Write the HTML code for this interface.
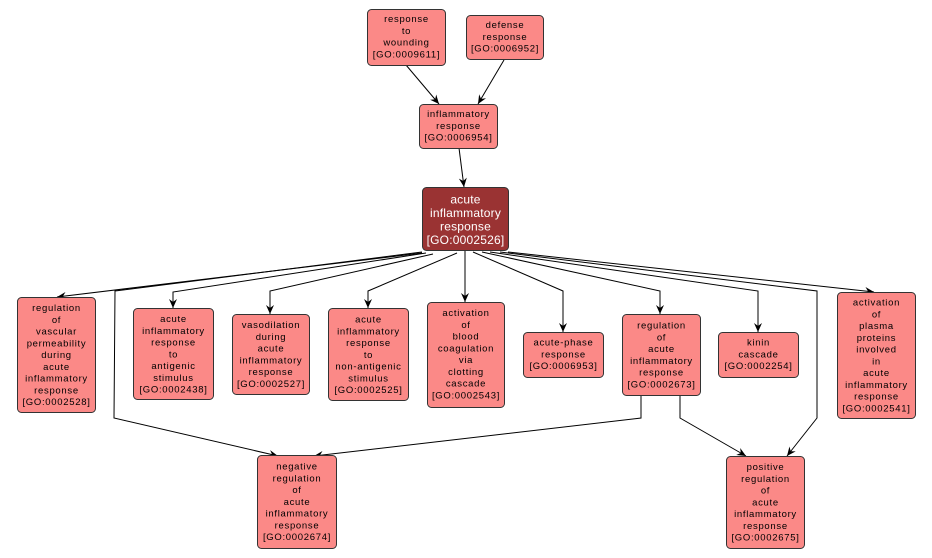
<!DOCTYPE html>
<html>
<head>
<meta charset="utf-8">
<style>
html,body{margin:0;padding:0;background:#fff;}
svg{display:block;}
text{font-family:"Liberation Sans",Arial,sans-serif;font-size:9.5px;letter-spacing:0.7px;text-anchor:middle;fill:#000;}
.big{font-size:12px;letter-spacing:0.2px;fill:#fff;}
.n{fill:#fb8987;stroke:#333;stroke-width:1;}
.d{fill:#9a3333;stroke:#333;stroke-width:1;}
.e{fill:none;stroke:#000;stroke-width:1;}
</style>
</head>
<body>
<svg width="932" height="558" viewBox="0 0 932 558" xmlns="http://www.w3.org/2000/svg">
<defs>
<marker id="a" markerWidth="12" markerHeight="10" refX="10" refY="5" orient="auto" markerUnits="userSpaceOnUse">
<path d="M10,5 L1,1 L4,5 L1,9 Z" fill="#000"/>
</marker>
</defs>

<!-- edges -->
<path class="e" marker-end="url(#a)" d="M406,65 L439,104"/>
<path class="e" marker-end="url(#a)" d="M504,60 L478,104"/>
<path class="e" marker-end="url(#a)" d="M459,148 L464,187"/>
<path class="e" marker-end="url(#a)" d="M422,253 L57,297"/>
<path class="e" marker-end="url(#a)" d="M422,252 L115,291 L114,418 L278,456"/>
<path class="e" marker-end="url(#a)" d="M426,253 L173,292 L173,308"/>
<path class="e" marker-end="url(#a)" d="M433,254 L270,291 L270,314"/>
<path class="e" marker-end="url(#a)" d="M457,253 L368,291 L368,308"/>
<path class="e" marker-end="url(#a)" d="M465,250 L465,302"/>
<path class="e" marker-end="url(#a)" d="M473,252 L563,291 L563,332"/>
<path class="e" marker-end="url(#a)" d="M482,252 L660,291 L660,314"/>
<path class="e" marker-end="url(#a)" d="M490,252 L758,291 L758,332"/>
<path class="e" marker-end="url(#a)" d="M500,252 L817,291 L817,418 L787,456"/>
<path class="e" marker-end="url(#a)" d="M508,252 L874,292"/>
<path class="e" marker-end="url(#a)" d="M641,395 L641,418 L314,456"/>
<path class="e" marker-end="url(#a)" d="M680,395 L680,418 L746,456"/>

<!-- nodes -->
<rect class="n" x="367.5" y="9.5" width="78" height="56" rx="4"/>
<text x="406.5" y="22">response</text>
<text x="406.5" y="33.8">to</text>
<text x="406.5" y="45.5">wounding</text>
<text x="406.5" y="57.3">[GO:0009611]</text>

<rect class="n" x="466.5" y="15.5" width="77" height="44" rx="4"/>
<text x="505" y="28">defense</text>
<text x="505" y="39.8">response</text>
<text x="505" y="51.5">[GO:0006952]</text>

<rect class="n" x="419.5" y="104.5" width="78" height="44" rx="4"/>
<text x="458.5" y="117">inflammatory</text>
<text x="458.5" y="128.8">response</text>
<text x="458.5" y="140.5">[GO:0006954]</text>

<rect class="d" x="422.5" y="187.5" width="86" height="63" rx="4"/>
<text class="big" x="465.5" y="203.5">acute</text>
<text class="big" x="465.5" y="217">inflammatory</text>
<text class="big" x="465.5" y="230.5">response</text>
<text class="big" x="465.5" y="244">[GO:0002526]</text>

<rect class="n" x="17.5" y="297.5" width="78" height="115" rx="4"/>
<text x="56.5" y="311">regulation</text>
<text x="56.5" y="322.8">of</text>
<text x="56.5" y="334.5">vascular</text>
<text x="56.5" y="346.3">permeability</text>
<text x="56.5" y="358">during</text>
<text x="56.5" y="369.8">acute</text>
<text x="56.5" y="381.5">inflammatory</text>
<text x="56.5" y="393.3">response</text>
<text x="56.5" y="405">[GO:0002528]</text>

<rect class="n" x="133.5" y="308.5" width="80" height="91" rx="4"/>
<text x="173.5" y="322">acute</text>
<text x="173.5" y="333.8">inflammatory</text>
<text x="173.5" y="345.5">response</text>
<text x="173.5" y="357.3">to</text>
<text x="173.5" y="369">antigenic</text>
<text x="173.5" y="380.8">stimulus</text>
<text x="173.5" y="392.5">[GO:0002438]</text>

<rect class="n" x="232.5" y="314.5" width="77" height="80" rx="4"/>
<text x="271" y="328">vasodilation</text>
<text x="271" y="339.8">during</text>
<text x="271" y="351.5">acute</text>
<text x="271" y="363.3">inflammatory</text>
<text x="271" y="375">response</text>
<text x="271" y="386.8">[GO:0002527]</text>

<rect class="n" x="328.5" y="308.5" width="80" height="92" rx="4"/>
<text x="368.5" y="322.5">acute</text>
<text x="368.5" y="334.3">inflammatory</text>
<text x="368.5" y="346">response</text>
<text x="368.5" y="357.8">to</text>
<text x="368.5" y="369.5">non-antigenic</text>
<text x="368.5" y="381.3">stimulus</text>
<text x="368.5" y="393">[GO:0002525]</text>

<rect class="n" x="427.5" y="302.5" width="77" height="105" rx="4"/>
<text x="466" y="316">activation</text>
<text x="466" y="327.8">of</text>
<text x="466" y="339.5">blood</text>
<text x="466" y="351.3">coagulation</text>
<text x="466" y="363">via</text>
<text x="466" y="374.8">clotting</text>
<text x="466" y="386.5">cascade</text>
<text x="466" y="398.3">[GO:0002543]</text>

<rect class="n" x="523.5" y="332.5" width="80" height="45" rx="4"/>
<text x="563.5" y="345.5">acute-phase</text>
<text x="563.5" y="357.3">response</text>
<text x="563.5" y="369">[GO:0006953]</text>

<rect class="n" x="622.5" y="314.5" width="78" height="81" rx="4"/>
<text x="661.5" y="328.5">regulation</text>
<text x="661.5" y="340.3">of</text>
<text x="661.5" y="352">acute</text>
<text x="661.5" y="363.8">inflammatory</text>
<text x="661.5" y="375.5">response</text>
<text x="661.5" y="387.3">[GO:0002673]</text>

<rect class="n" x="718.5" y="332.5" width="80" height="45" rx="4"/>
<text x="758.5" y="345.5">kinin</text>
<text x="758.5" y="357.3">cascade</text>
<text x="758.5" y="369">[GO:0002254]</text>

<rect class="n" x="837.5" y="292.5" width="78" height="126" rx="4"/>
<text x="876.5" y="305.5">activation</text>
<text x="876.5" y="317.3">of</text>
<text x="876.5" y="329">plasma</text>
<text x="876.5" y="340.8">proteins</text>
<text x="876.5" y="352.5">involved</text>
<text x="876.5" y="364.3">in</text>
<text x="876.5" y="376">acute</text>
<text x="876.5" y="387.8">inflammatory</text>
<text x="876.5" y="399.5">response</text>
<text x="876.5" y="411.3">[GO:0002541]</text>

<rect class="n" x="257.5" y="455.5" width="79" height="93" rx="4"/>
<text x="297" y="469.5">negative</text>
<text x="297" y="481.3">regulation</text>
<text x="297" y="493">of</text>
<text x="297" y="504.8">acute</text>
<text x="297" y="516.5">inflammatory</text>
<text x="297" y="528.3">response</text>
<text x="297" y="540">[GO:0002674]</text>

<rect class="n" x="726.5" y="456.5" width="78" height="92" rx="4"/>
<text x="765.5" y="470">positive</text>
<text x="765.5" y="481.8">regulation</text>
<text x="765.5" y="493.5">of</text>
<text x="765.5" y="505.3">acute</text>
<text x="765.5" y="517">inflammatory</text>
<text x="765.5" y="528.8">response</text>
<text x="765.5" y="540.5">[GO:0002675]</text>
</svg>
</body>
</html>
